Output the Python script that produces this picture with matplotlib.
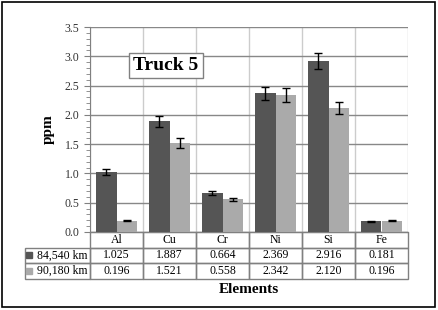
import matplotlib.pyplot as plt
import matplotlib.patches as mpatches
import numpy as np

plt.rcParams['font.family'] = ['Liberation Serif', 'DejaVu Serif']

elements = ["Al", "Cu", "Cr", "Ni", "Si", "Fe"]
series_names = ["84,540 km", "90,180 km"]
km_84540 = [1.025, 1.887, 0.664, 2.369, 2.916, 0.181]
km_90180 = [0.196, 1.521, 0.558, 2.342, 2.120, 0.196]
err_84540 = [0.05, 0.09, 0.03, 0.11, 0.14, 0.01]
err_90180 = [0.01, 0.08, 0.023, 0.12, 0.10, 0.01]
colors = ["#555555", "#aaaaaa"]

fig = plt.figure(figsize=(4.38, 3.10), dpi=100)
ax = fig.add_axes([90 / 438, 78 / 310, 318 / 438, 205 / 310])

x = np.arange(len(elements))
w = 0.39
for vals, errs, c, off in [(km_84540, err_84540, colors[0], -w / 2),
                           (km_90180, err_90180, colors[1], w / 2)]:
    ax.bar(x + off, vals, w, color=c, zorder=3)
    ax.errorbar(x + off, vals, yerr=errs, fmt="none", ecolor="black",
                elinewidth=1, capsize=3, capthick=1, zorder=4)

ax.set_xlim(-0.5, len(elements) - 0.5)
ax.set_ylim(0, 3.5)
ax.set_yticks(np.arange(0, 3.51, 0.5))
ax.set_yticks(np.arange(0, 3.51, 0.1), minor=True)
ax.set_yticklabels(["%.1f" % v for v in np.arange(0, 3.51, 0.5)],
                   fontsize=8.5, color="#333333")
ax.tick_params(axis="y", which="major", length=4, color="#808080")
ax.tick_params(axis="y", which="minor", length=3, color="#808080")
ax.set_xticks([])
ax.yaxis.grid(True, color="#888888", lw=1, zorder=0)
for b in np.arange(-0.5, len(elements), 1.0):
    ax.axvline(b, color="#cccccc", lw=1, zorder=0)
for s in ["top", "right"]:
    ax.spines[s].set_visible(False)
ax.spines["left"].set_color("#808080")
ax.spines["bottom"].set_color("#808080")

ax.set_ylabel("ppm", fontsize=11, fontweight="bold", labelpad=7)

# table under the chart, first column holds the series names
cell_text = [["   " + series_names[0]] + ["%.3f" % v for v in km_84540],
             ["   " + series_names[1]] + ["%.3f" % v for v in km_90180]]
col_w = [65] + [53] * len(elements)
tab = ax.table(cellText=cell_text, colLabels=[""] + elements, cellLoc="center",
               colWidths=[c / sum(col_w) for c in col_w],
               bbox=[-65 / 318, -47 / 205, 383 / 318, 47 / 205])
tab.auto_set_font_size(False)
tab.set_fontsize(8.5)
for (r, c), cell in tab.get_celld().items():
    cell.set_edgecolor("#808080")
    cell.set_linewidth(1)
    cell.set_facecolor("none")
    if r == 0 and c == 0:
        cell.visible_edges = ""

for i, c in enumerate(colors):
    ax.plot([-61 / 318], [-(22.5 + i * 16.5) / 205], marker="s", markersize=4.5,
            color=c, transform=ax.transAxes, clip_on=False)

ax.text(0.5, -0.282, "Elements", transform=ax.transAxes, ha="center", va="center",
        fontsize=11, fontweight="bold")

ax.text(0.239, 0.812, "Truck 5", transform=ax.transAxes, ha="center", va="center",
        fontsize=14, fontweight="bold", zorder=6,
        bbox=dict(boxstyle="square,pad=0.22", fc="white", ec="#808080", lw=1))

fig.patches.append(mpatches.Rectangle((2 / 438, 3 / 310), 433 / 438, 305 / 310,
                                      transform=fig.transFigure, fill=False,
                                      ec="black", lw=1.2))

fig.savefig("out.png", dpi=100)
